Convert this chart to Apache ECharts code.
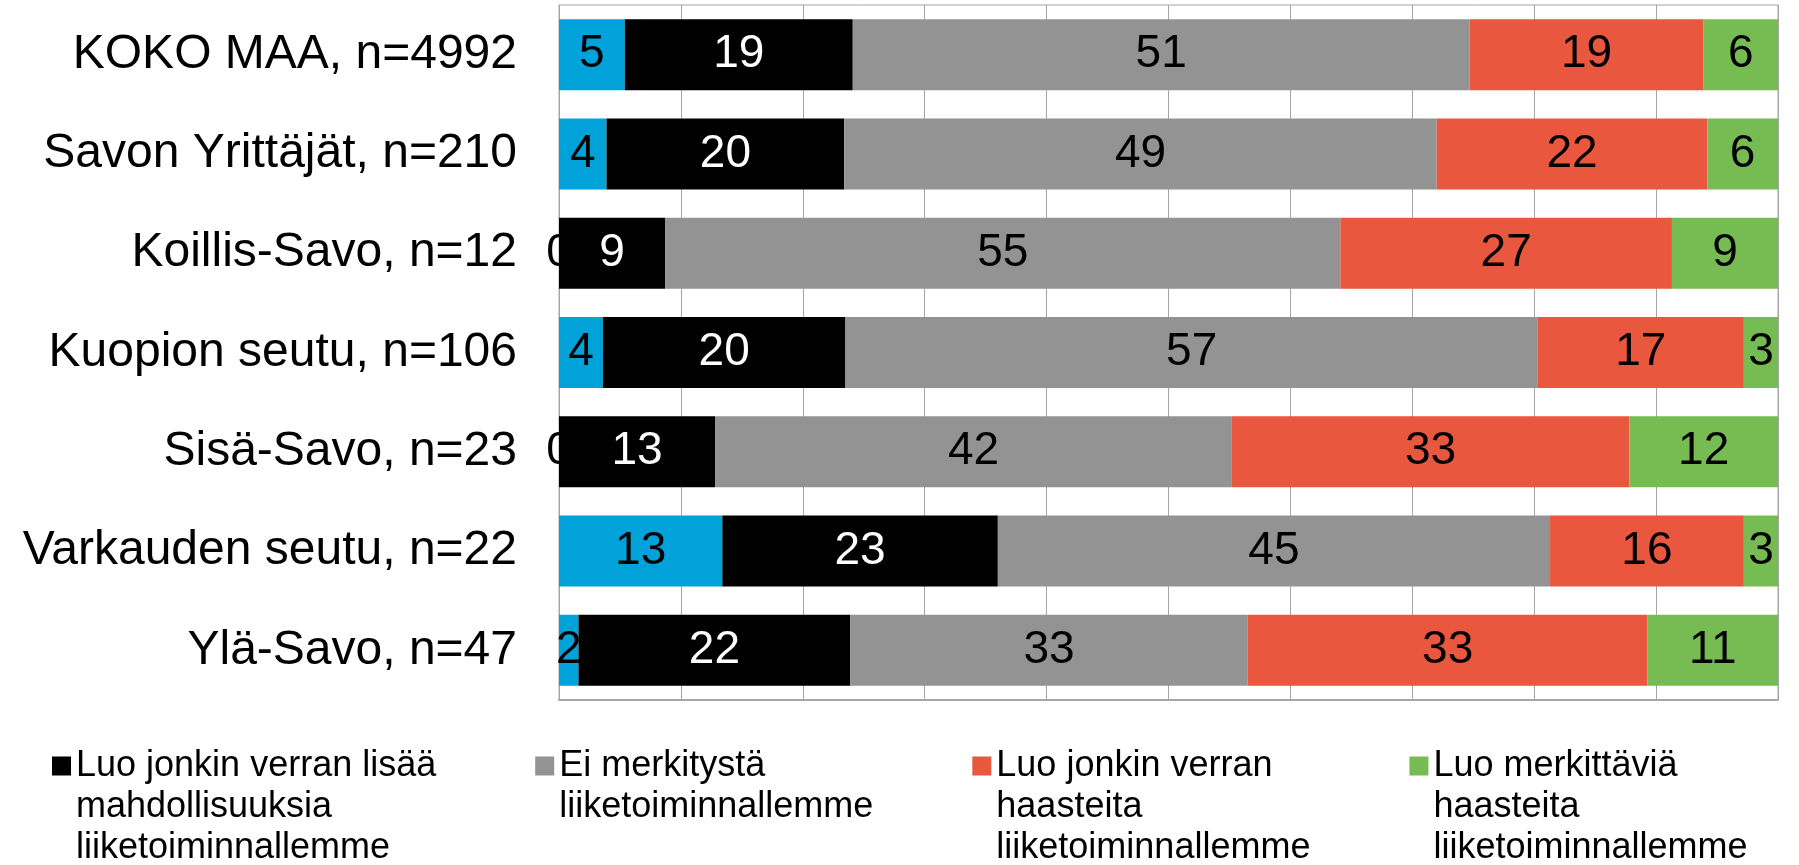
<!DOCTYPE html>
<html>
<head>
<meta charset="utf-8">
<script src="https://cdn.jsdelivr.net/npm/echarts@6/dist/echarts.min.js"></script>
<style>
html,body{margin:0;padding:0;background:#fff;}
#chart{width:1799px;height:865px;}
</style>
</head>
<body>
<div id="chart"></div>
<script>
const categories = ['KOKO MAA, n=4992', 'Savon Yrittäjät, n=210', 'Koillis-Savo, n=12', 'Kuopion seutu, n=106', 'Sisä-Savo, n=23', 'Varkauden seutu, n=22', 'Ylä-Savo, n=47'];

const seriesNames = [
  'Luo merkittäviä mahdollisuuksia liiketoiminnallemme',
  'Luo jonkin verran lisää mahdollisuuksia liiketoiminnallemme',
  'Ei merkitystä liiketoiminnallemme',
  'Luo jonkin verran haasteita liiketoiminnallemme',
  'Luo merkittäviä haasteita liiketoiminnallemme'
];

// legend text as shown (wrapped lines); first series has no visible legend entry
const legendLines = [
  null,
  ['Luo jonkin verran lisää', 'mahdollisuuksia', 'liiketoiminnallemme'],
  ['Ei merkitystä', 'liiketoiminnallemme'],
  ['Luo jonkin verran', 'haasteita', 'liiketoiminnallemme'],
  ['Luo merkittäviä', 'haasteita', 'liiketoiminnallemme']
];

const valuesBlue  = [5.4, 3.9, 0, 3.6, 0, 13.4, 1.6];
const valuesBlack = [18.7, 19.5, 8.7, 19.9, 12.8, 22.6, 22.3];
const valuesGray  = [50.6, 48.6, 55.4, 56.8, 42.4, 45.3, 32.6];
const valuesRed   = [19.2, 22.2, 27.2, 16.9, 32.6, 15.9, 32.8];
const valuesGreen = [6.1, 5.8, 8.7, 2.8, 12.2, 2.8, 10.7];

const allValues = [valuesBlue, valuesBlack, valuesGray, valuesRed, valuesGreen];
const colors = ['#00A2DA', '#000000', '#939393', '#E9573E', '#77BC52'];
const labelColors = ['#000000', '#ffffff', '#000000', '#000000', '#000000'];

const FONT = '"Liberation Sans", Arial, sans-serif';
const LH = 41;
const ICON = 19;
const ICON_CENTER_Y = 765;

const chart = echarts.init(document.getElementById('chart'));

const series = allValues.map((vals, i) => ({
  name: seriesNames[i],
  type: 'bar',
  stack: 'total',
  data: vals,
  barCategoryGap: '28.5%',
  itemStyle: { color: colors[i] },
  label: {
    show: true,
    position: 'inside',
    fontFamily: FONT,
    fontSize: 46,
    color: labelColors[i],
    formatter: p => String(Math.round(p.value))
  },
  emphasis: { disabled: true },
  animation: false
}));

// Icon is vertically centred on the text block, so pad with blank lines on top
// so that the first text line sits next to the icon.
function legendText(name) {
  const lines = legendLines[seriesNames.indexOf(name)];
  const pad = new Array(lines.length - 1).fill('');
  return pad.concat(lines).join('\n');
}

chart.setOption({
  animation: false,
  grid: {
    left: 559, right: 21, top: 5, bottom: 165,
    outerBoundsMode: 'none',
    show: true, borderColor: '#A6A6A6', borderWidth: 1
  },
  xAxis: {
    type: 'value',
    min: 0, max: 100, interval: 10,
    axisLabel: { show: false },
    axisTick: { show: false },
    axisLine: { show: true, lineStyle: { color: '#A6A6A6', width: 2 } },
    splitLine: { show: true, lineStyle: { color: '#A6A6A6', width: 1 } }
  },
  yAxis: {
    type: 'category',
    inverse: true,
    data: categories,
    axisTick: { show: false },
    axisLine: { show: true, lineStyle: { color: '#A6A6A6', width: 1 } },
    axisLabel: { fontFamily: FONT, fontSize: 48, color: '#000', margin: 42 }
  },
  legend: {
    left: 52,
    top: ICON_CENTER_Y - 2.5 * LH + 1,
    padding: 0,
    itemWidth: ICON,
    itemHeight: ICON,
    itemGap: 99,
    icon: 'rect',
    selectedMode: false,
    data: seriesNames.slice(1),
    formatter: legendText,
    textStyle: { fontFamily: FONT, fontSize: 36, lineHeight: LH, color: '#000' }
  },
  series: series
});
</script>
</body>
</html>
